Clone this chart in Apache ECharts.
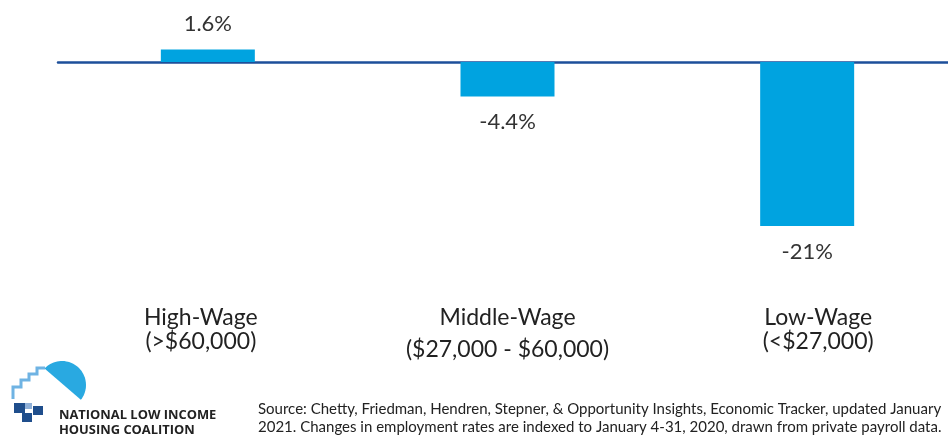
<!DOCTYPE html>
<html>
<head>
<meta charset="utf-8">
<script src="https://cdn.jsdelivr.net/npm/echarts@6/dist/echarts.min.js"></script>
<style>
html,body{margin:0;padding:0;background:#fff;}
#chart{width:948px;height:436px;}
</style>
</head>
<body>
<div id="chart"></div>
<script>
var categories = ['High-Wage', 'Middle-Wage', 'Low-Wage'];
var incomeRanges = ['(>$60,000)', '($27,000 - $60,000)', '(<$27,000)'];
var values = [1.6, -4.4, -21];
var valueLabels = ['1.6%', '-4.4%', '-21%'];
var sourceLines = [
  'Source: Chetty, Friedman, Hendren, Stepner, & Opportunity Insights, Economic Tracker, updated January',
  '2021. Changes in employment rates are indexed to January 4-31, 2020, drawn from private payroll data.'
];
var orgName = ['NATIONAL LOW INCOME', 'HOUSING COALITION'];

var FONT = 'Lato';
var chart = echarts.init(document.getElementById('chart'), null, {renderer: 'canvas'});

// logo roof-circle shape
var cx = 62, cy = 385, r = 24;
var a1 = Math.atan2(369 - cy, 45 - cx), a2 = Math.atan2(400 - cy, 81 - cx);
var arcPts = [];
for (var i = 0; i <= 40; i++) {
  var a = a1 + (a2 - a1) * i / 40;
  arcPts.push([cx + r * Math.cos(a), cy + r * Math.sin(a)]);
}
var navy = '#1f4e8c';

var option = {
  animation: false,
  backgroundColor: '#ffffff',
  grid: {left: 58, width: 899, top: 30.76, height: 203.1, containLabel: false, outerBoundsMode: 'none'},
  xAxis: [{
    type: 'category',
    data: categories,
    axisLine: {onZero: true, lineStyle: {color: '#1d4f9a', width: 2.5}},
    axisTick: {show: false},
    axisLabel: {show: false},
    splitLine: {show: false}
  }, {
    type: 'category',
    data: categories,
    position: 'bottom',
    axisLine: {show: false, onZero: false},
    axisTick: {show: false},
    splitLine: {show: false},
    axisLabel: {
      margin: 72,
      interval: 0,
      formatter: function (v, idx) {
        var k = ['h', 'm', 'l'][idx];
        return '{' + k + 'a|' + v + '}\n{' + k + 'b|' + incomeRanges[idx] + '}';
      },
      rich: {
        ha: {fontFamily: FONT, fontSize: 23, color: '#222', lineHeight: 24, padding: [0, 14, 0, 0]},
        hb: {fontFamily: FONT, fontSize: 23, color: '#222', lineHeight: 24, padding: [0, 14, 0, 0]},
        ma: {fontFamily: FONT, fontSize: 23, color: '#222', lineHeight: 24},
        mb: {fontFamily: FONT, fontSize: 23, color: '#222', lineHeight: 40},
        la: {fontFamily: FONT, fontSize: 23, color: '#222', lineHeight: 24, padding: [0, 0, 0, 22]},
        lb: {fontFamily: FONT, fontSize: 23, color: '#222', lineHeight: 24, padding: [0, 0, 0, 22]}
      }
    }
  }],
  yAxis: {
    type: 'value', min: -22, max: 4, show: false,
    splitLine: {show: false}
  },
  series: [{
    type: 'bar',
    xAxisIndex: 0,
    data: values.map(function (v) {
      return {value: v, label: {position: v < 0 ? 'bottom' : 'top'}};
    }),
    barWidth: 94,
    itemStyle: {color: '#00a3e0'},
    z: 1,
    label: {
      show: true,
      distance: 16,
      fontFamily: FONT,
      fontSize: 22,
      color: '#333',
      lineHeight: 20,
      formatter: function (p) { return valueLabels[p.dataIndex]; }
    }
  }],
  graphic: [
    {type: 'polygon', shape: {points: arcPts}, style: {fill: '#29a9e1'}},
    {type: 'polyline', shape: {points: [[13, 399], [13, 387], [21, 387], [21, 380], [29, 380], [29, 374], [37, 374], [37, 368], [45, 368]]},
      style: {stroke: '#6fb3e3', lineWidth: 3, fill: null}},
    {type: 'rect', shape: {x: 14, y: 403, width: 11, height: 10}, style: {fill: navy}},
    {type: 'rect', shape: {x: 25, y: 403, width: 7, height: 6}, style: {fill: '#8fb0d8'}},
    {type: 'rect', shape: {x: 22, y: 413, width: 10, height: 9}, style: {fill: navy}},
    {type: 'rect', shape: {x: 33, y: 406, width: 10, height: 9}, style: {fill: navy}},
    {type: 'text', left: 59, top: 408, style: {text: orgName.join('\n'), fontFamily: 'Open Sans', fontWeight: 'bold', fontSize: 12.9, lineHeight: 15, fill: '#222'}},
    {type: 'text', left: 258, top: 400, style: {text: sourceLines.join('\n'), fontFamily: FONT, fontSize: 15, lineHeight: 18, fill: '#222'}}
  ]
};
chart.setOption(option);
</script>
</body>
</html>
